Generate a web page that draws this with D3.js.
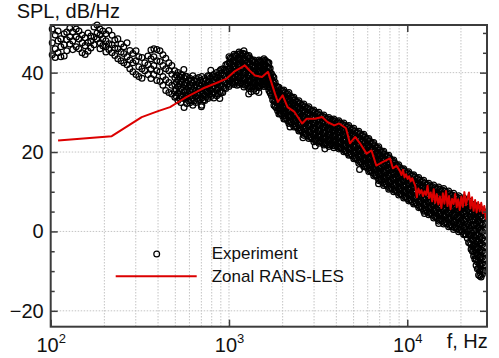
<!DOCTYPE html>
<html><head><meta charset="utf-8">
<script src="https://cdn.jsdelivr.net/npm/d3@7"></script>
<style>body{margin:0;background:#fff}svg{display:block;font-family:"Liberation Sans",Arial,sans-serif}</style>
</head><body><svg id="c" width="499" height="358"></svg>
<script>
// ---------- data ----------
const yMajorTicks = [-20, 0, 20, 40];
const yMinorTicks = [-15, -10, -5, 5, 10, 15, 25, 30, 35, 45, 50];
const xMajorTicks = [100, 1000, 10000];
const seriesNames = ["Experiment", "Zonal RANS-LES"];

// Experiment, low frequencies: [f, SPL values...]
const expLow = [
[102,51,47.5,44.5],[106,49.5,46,43.8],[110,50.5,48,45],[114,48.5,46.5,44],[119,49.8,47,44.2],[123,50.2,48.3,45.5],[128,51.2,49,47.2],[133,50.3,48,45.8],[139,51,49,46.5],[144,50.5,48.5,46],[150,49.5,47.5,45],[156,48.8,46.8,44.6],[162,50,47.6,45.4],[168,49.2,47.9,46.2],[175,51.5,49,47],[182,52,50,48.5],[189,51,49.5,47.5,46],[196,50.5,48.5,46.8],[204,49.8,48,46.5,45.2],[212,50.6,47.3,45.8],[221,49.4,47,45],[229,48.2,46.2,44.3],[238,48.5,46,43.5],[248,47.2,45.2,43],[257,46.5,44.8,42.5],[268,47.5,44,42],[278,45.6,43.2,41],[289,44.8,42.5,40.2],[301,45.5,43,39.5],[312,44,41.5,39],[325,43.8,41,38.6],[337,42.5,40.5],[351,44.2,42,39.5],[365,45.7,43.5,41,38.5],[379,46,44,41.8,39.5],[394,45.8,43,40.5,38],[410,45.5,42.8,40.2,37.8],[426,44.5,41.8,39,36.8],[442,43.6,41,38.2,35.5],[460,42.5,40.5,37.5,35],[478,41.8,39.6,36.8,34.6],
[497,40.5,38.8,37,35.4,33.8],[517,40,38.2,36.5,34.8,33],[537,39.5,37.8,36,34.2,32.5],[558,40.8,38.8,37,35.2,33.5],[580,39,37.3,35.6,34,32.2],[603,38.6,37,35.4,34,32.4],[627,39.2,37.4,35.5,33.6,31.8],[652,38.5,37,35.4,34,32.5],[677,38.8,37.2,35.8,34.4,33],[704,39,37.2,35.4,33.6,31.8],[732,38.5,37.1,35.7,34.3,33],[761,39.2,37.6,36.2,34.8,33.5],[791,40.6,38.8,37.2,35.6,34],[822,39.5,38,36.5,35,33.6],[854,40,38.6,37,35.6,34.2],[888,40.5,38.6,36.8,35.2,33.5],[923,41,39.5,38,36.5,35],[960,42,40.5,39,37.5,36],
[507,39.4,37.6,35.7,34],[527,39,37.2,35.3,33.5],[547,39.4,37.6,35.6,33.8],[569,39.1,37.3,35.4,33.6],[591,38,36.4,34.7,33],[615,38.1,36.4,34.6,32.9],[639,38,36.3,34.6,32.9],[664,37.9,36.4,34.9,33.4],[690,38.1,36.5,34.8,33.2],[718,37.9,36.3,34.7,33.1],[746,38.1,36.7,35.3,33.9],[776,39.1,37.6,36,34.5],[806,39.2,37.7,36.1,34.6],[838,39,37.5,36.1,34.6],[871,39.4,37.8,36.2,34.6],[905,39.9,38.3,36.7,35],[941,40.7,39.2,37.7,36.2],[980,42.2,40.5,38.8,37.1]
];

// Experiment, dense band: [f, SPL values...]
const expBand = [
[1000,44,42.5,41,39.5,38,36.5],[1033,43.5,42,40.5,39,37.5],[1067,44.6,43.1,41.6,40,38.5,37],[1102,44.2,42.6,41.1,39.5,38],
[1138,45.2,43.6,41.9,40.3,38.6,37],[1175,44.5,42.8,41,39.3,37.5],[1213,45.5,43.7,41.9,40,38.2,36.4],[1253,44.1,42.4,40.6,38.8,37.1],
[1294,44.3,42.6,41,39.3,37.7,36],[1337,43,41.4,39.8,38.2,36.6],[1380,43.2,41.7,40.2,38.8,37.3,35.8],[1426,42.3,40.9,39.5,38.1,36.7],
[1472,43.2,41.8,40.4,39,37.6,36.2],[1521,42.7,41.3,39.9,38.5,37.1],[1570,43.5,42.1,40.7,39.3,37.9,36.5],[1622,42.8,41.4,40,38.6,37.2],
[1675,42.5,41.1,39.7,38.3,36.9,35.5],[1730,39.8,38.4,37,35.6,34.2],[1786,38.8,37.4,36,34.6,33.2,31.8],[1845,36.6,35.2,33.9,32.5,31.1],
[1905,36.3,35,33.6,32.3,30.9,29.6],[1968,35.3,33.9,32.5,31.1,29.7],[2032,35.6,34.1,32.7,31.2,29.8,28.3],[2099,34.5,33,31.5,30,28.5],
[2168,35,33.4,31.9,30.3,28.8,27.2],[2239,33.6,32.1,30.6,29.1,27.6],[2312,33.8,32.3,30.8,29.3,27.8,26.3],[2388,32.5,31,29.5,28,26.5],
[2466,32.9,31.4,29.9,28.3,26.8,25.3],[2547,31.7,30.2,28.6,27.1,25.6],[2630,32.1,30.5,29,27.3,25.8,24.2],[2716,30.9,29.3,27.8,26.2,24.6],
[2805,31.4,29.8,28.2,26.6,25,23.4],[2897,30.2,28.6,27,25.4,23.8],[2992,30.6,29,27.4,25.8,24.2,22.6],[3090,29.5,27.9,26.4,24.8,23.2],
[3192,30,28.4,26.9,25.3,23.8,22.2],[3296,28.8,27.3,25.8,24.3,22.8],[3404,29.3,27.8,26.3,24.8,23.3,21.8],[3516,28.3,26.8,25.3,23.8,22.3],
[3631,28.7,27.2,25.8,24.3,22.9,21.4],[3750,27.8,26.4,24.9,23.5,22],[3873,28.3,26.9,25.4,24,22.5,21.1],[4000,27.4,26,24.5,23.1,21.7],
[4131,27.9,26.5,25.1,23.6,22.2,20.8],[4266,26.9,25.5,24,22.6,21.2],[4406,27.3,25.9,24.4,23,21.5,20.1],[4550,26.3,24.8,23.3,21.8,20.3],
[4699,26.7,25.2,23.7,22.2,20.7,19.2],[4853,25.5,24,22.5,21,19.5],[5012,26,24.5,22.9,21.4,19.8,18.3],[5176,24.8,23.3,21.7,20.2,18.6],
[5346,25.2,23.6,22,20.4,18.8,17.2],[5521,24.1,22.5,20.9,19.2,17.6],[5702,24.5,22.9,21.2,19.6,17.9,16.3],[5888,23.2,21.5,19.9,18.3,16.6],
[6081,23.4,21.7,20.1,18.4,16.8,15.1],[6281,22.1,20.4,18.8,17.1,15.4],[6486,22.4,20.7,19,17.4,15.7,14],[6699,21,19.3,17.6,15.9,14.2],
[6918,21.3,19.6,17.9,16.2,14.5,12.8],[7145,19.9,18.2,16.5,14.8,13.1],[7379,20.2,18.5,16.8,15,13.3,11.6],[7621,18.8,17.1,15.4,13.7,12],
[7870,19.2,17.5,15.8,14,12.3,10.6],[8128,17.8,16.1,14.5,12.8,11.1],[8395,18,16.4,14.8,13.2,11.6,10],[8670,16.6,15.1,13.5,11.9,10.4],
[8954,16.8,15.3,13.8,12.2,10.7,9.2],[9247,15.5,14,12.5,11,9.5],[9550,15.8,14.3,12.8,11.4,9.9,8.4],[9863,14.6,13.2,11.7,10.3,8.8],
[10186,15,13.5,12.1,10.6,9.2,7.7],[10520,14,12.5,11,9.5,8],[10864,14.3,12.8,11.3,9.9,8.4,6.9],[11220,13.2,11.7,10.2,8.7,7.2],
[11588,13.6,12.1,10.6,9,7.5,6],[11967,12.4,10.9,9.3,7.8,6.3],[12359,12.9,11.3,9.8,8.2,6.7,5.1],[12764,11.7,10.1,8.5,7,5.4],
[13183,12.1,10.5,8.9,7.4,5.8,4.2],[13614,11.1,9.5,7.9,6.2,4.6],[14060,11.7,10,8.4,6.7,5.1,3.4],[14521,10.6,8.9,7.2,5.5,3.8],
[14997,11.2,9.5,7.8,6,4.3,2.6],[15488,10.1,8.4,6.6,4.8,3.1],[15996,10.8,9,7.2,5.5,3.7,1.9],[16520,9.6,7.8,6,4.2,2.4],
[17061,10.2,8.4,6.6,4.8,3,1.2],[17620,9,7.2,5.4,3.5,1.7],[18197,9.6,7.8,6,4.1,2.3,0.5],[18793,8.4,6.6,4.8,2.9,1.1],
[19409,9,7.2,5.4,3.5,1.7,-0.1],[20045,7.9,6,4.2,2.4,0.5],[20701,8.5,6.6,4.8,2.9,1.1,-0.8],[21380,7,5.1,3.1,1.2,-0.8],
[22080,7.7,5.6,3.5,1.4,-0.7,-2.8],[22803,6,3.7,1.4,-1,-3.3,-4.5],
[23550,6.8,5.5,4.2,2.9,1.6,0.3,-1,-2.3,-3.6,-4.9,-6.2],
[24322,6.4,5,3.5,2,0.5,-1,-2.5,-4,-5.5,-7,-8.5],
[25119,6,4.3,2.6,0.9,-0.8,-2.5,-4.2,-5.9,-7.6,-9.3,-11],
[25942,5.5,3.8,2.1,0.4,-1.3,-3,-4.7,-6.4,-8.1,-9.8,-11.5],
[26792,5,3.5,2,0.5,-1,-2.5,-4,-5.5,-7,-8.5,-10]
];

// Experiment, dense band (in-between bins): [f, SPL values...]
const expBandMid = [
[1016,43.7,42.4,41.2,39.7,38.4,37.1],[1050,44,42.7,41.4,39.9,38.6,37.3],[1084,44.3,43,41.7,40.2,38.9,37.6],[1120,44.6,43.3,41.9,40.3,38.9,37.6],
[1156,44.8,43.4,41.9,40.2,38.8,37.4],[1194,44.9,43.4,41.9,40.1,38.6,37.1],[1233,44.7,43.2,41.7,39.9,38.4,36.8],[1273,44.1,42.7,41.2,39.5,38.1,36.6],
[1315,43.6,42.2,40.8,39.2,37.8,36.4],[1358,43,41.7,40.4,38.9,37.6,36.3],[1403,42.7,41.4,40.2,38.8,37.6,36.3],[1449,42.7,41.5,40.3,38.9,37.7,36.5],
[1496,42.9,41.7,40.5,39.1,37.9,36.7],[1545,43,41.8,40.6,39.2,38,36.9],[1596,43.1,41.9,40.7,39.3,38.1,36.9],[1648,42.6,41.4,40.2,38.8,37.6,36.4],
[1702,41.1,39.9,38.7,37.3,36.1,34.9],[1758,39.2,38,36.8,35.4,34.3,33.1],[1815,37.6,36.4,35.3,33.9,32.7,31.5],[1875,36.4,35.2,34.1,32.7,31.6,30.4],
[1936,35.7,34.6,33.4,32,30.9,29.7],[2000,35.4,34.2,33,31.5,30.3,29.1],[2065,35,33.7,32.5,31,29.7,28.4],[2133,34.7,33.4,32.1,30.5,29.2,27.9],
[2203,34.2,32.9,31.6,30.1,28.8,27.5],[2275,33.6,32.4,31.1,29.6,28.3,27],[2350,33.1,31.8,30.6,29.1,27.8,26.5],[2427,32.6,31.4,30.1,28.6,27.3,26],
[2506,32.2,31,29.7,28.2,26.9,25.5],[2588,31.8,30.5,29.2,27.6,26.3,25],[2673,31.4,30.1,28.7,27.2,25.8,24.5],[2760,31.1,29.7,28.4,26.8,25.5,24.1],
[2851,30.7,29.4,28,26.4,25,23.7],[2944,30.3,29,27.6,26,24.6,23.3],[3041,30,28.6,27.3,25.7,24.3,23],[3140,29.7,28.3,27,25.4,24.1,22.8],
[3243,29.3,28,26.7,25.2,23.9,22.6],[3350,29,27.7,26.4,24.9,23.6,22.4],[3459,28.7,27.4,26.2,24.7,23.4,22.1],[3573,28.4,27.2,25.9,24.4,23.2,21.9],
[3690,28.2,26.9,25.7,24.3,23,21.8],[3811,28,26.7,25.5,24.1,22.9,21.6],[3936,27.8,26.5,25.3,23.9,22.7,21.5],[4065,27.6,26.4,25.2,23.7,22.5,21.3],
[4198,27.3,26.1,24.9,23.5,22.3,21.1],[4335,27,25.8,24.6,23.2,21.9,20.7],[4477,26.7,25.5,24.2,22.8,21.5,20.3],[4624,26.4,25.1,23.9,22.4,21.1,19.8],
[4775,26,24.8,23.5,22,20.7,19.4],[4932,25.7,24.4,23.1,21.6,20.3,19],[5093,25.3,24,22.7,21.2,19.8,18.5],[5260,24.9,23.6,22.2,20.7,19.3,18],
[5433,24.6,23.2,21.8,20.2,18.8,17.5],[5611,24.2,22.8,21.4,19.8,18.4,17],[5794,23.8,22.4,21,19.3,17.9,16.5],[5984,23.2,21.8,20.4,18.7,17.3,15.9],
[6180,22.7,21.2,19.8,18.2,16.8,15.3],[6383,22.2,20.7,19.3,17.6,16.2,14.8],[6592,21.6,20.2,18.8,17.1,15.6,14.2],[6808,21.1,19.6,18.2,16.5,15.1,13.6],
[7031,20.5,19.1,17.6,15.9,14.5,13],[7261,20,18.5,17.1,15.3,13.9,12.4],[7499,19.4,18,16.5,14.8,13.3,11.9],[7745,18.9,17.5,16,14.3,12.8,11.4],
[7998,18.4,17,15.5,13.8,12.4,10.9],[8261,17.8,16.4,15,13.4,12,10.6],[8531,17.2,15.9,14.5,13,11.6,10.3],[8811,16.6,15.3,14,12.5,11.2,9.9],
[9099,16.1,14.8,13.5,12,10.7,9.5],[9397,15.6,14.3,13.1,11.6,10.3,9.1],[9705,15.2,13.9,12.7,11.2,9.9,8.7],[10023,14.8,13.5,12.3,10.8,9.5,8.3],
[10351,14.4,13.2,11.9,10.4,9.2,7.9],[10691,14.1,12.8,11.5,10,8.8,7.5],[11041,13.7,12.4,11.2,9.7,8.4,7.1],[11403,13.3,12.1,10.8,9.3,8,6.7],
[11776,12.9,11.6,10.3,8.8,7.5,6.2],[12162,12.6,11.3,10,8.4,7.1,5.8],[12561,12.2,10.9,9.6,8,6.7,5.3],[12972,11.8,10.5,9.1,7.6,6.2,4.9],
[13397,11.5,10.2,8.8,7.2,5.8,4.5],[13836,11.3,9.9,8.5,6.9,5.5,4.1],[14289,11,9.6,8.2,6.5,5.1,3.7],[14758,10.8,9.3,7.9,6.2,4.8,3.3],
[15241,10.6,9.1,7.6,5.9,4.4,2.9],[15740,10.4,8.9,7.4,5.6,4.1,2.6],[16256,10.1,8.6,7.1,5.3,3.8,2.2],[16789,9.8,8.3,6.8,5,3.4,1.9],
[17339,9.5,8,6.4,4.6,3.1,1.5],[17907,9.2,7.7,6.1,4.3,2.7,1.2],[18493,8.9,7.4,5.8,4,2.4,0.9],[19099,8.6,7.1,5.5,3.7,2.1,0.6],
[19725,8.3,6.8,5.2,3.4,1.8,0.3],[20371,8.1,6.5,4.9,3.1,1.5,0],[21038,7.7,6.1,4.4,2.5,0.9,-0.7],[21728,7.2,5.5,3.8,1.8,0,-1.7],
[22440,6.8,4.9,3,0.8,-1.1,-3],[23175,6.5,4.8,3.1,1.4,-0.4,-2.1,-3.8,-5],
[23934,6.1,4.6,3.1,1.6,0.1,-1.5,-3,-4.5,-6,-7],
[24719,6,4.3,2.6,0.9,-0.9,-2.6,-4.3,-6,-7.7,-9.4],
[25529,5.4,3.7,2,0.3,-1.5,-3.2,-4.9,-6.6,-8.3,-10,-11.2],
[26364,4.8,3.2,1.6,0,-1.7,-3.3,-4.9,-6.5,-8.1,-9.7,-10.8]
];

// Experiment, scattered outliers [f, SPL]
const expOut = [[1290,34.6],[1330,35.2],[1420,35.4],[1470,35],[560,31.2],[700,31.4],[900,40.8],[1110,36.8],[2200,26.3],[2600,23.6],[3050,21.5],[3450,20.8],[5400,15.6],[6900,12],[12500,4.5],[15000,2]];

// Zonal RANS-LES
const lesFreq = [110,220,324,400,467,520,580,713,850,970,1081,1229,1300,1399,1531,1655,1811,1880,2000,2130,2330,2570,2730,3030,3330,3580,3900,4150,4530,4770,5100,5430,5910,6300,6700,7300,8000,8300,8700,
9100,9282,9468,9657,9850,10047,10248,10453,10662,10875,11093,11315,11541,11772,12007,12247,12492,12742,12997,13257,13522,13793,14069,14350,14637,14930,15228,15533,15843,16160,16483,16813,17149,17492,17842,18199,18563,18934,19313,19699,20093,20495,20905,21323,21750,22185,22628,23081,23542,24013,24493,24983,25483,25993,26513,27043,27584,28000];
const lesSPL = [22.9,24.0,28.8,30.3,31.3,32.6,33.9,36.0,37.4,38.5,40.4,41.8,40.6,39.3,38.9,40.2,34.7,32.6,34.3,31.3,30.1,27.2,28.4,28.4,28.8,27.5,26.7,27.2,26,22.2,23.8,22.2,19.6,20.4,16.6,17.5,18.4,15.9,16.5,
15.2,14.2,15.5,13.6,14.4,13.2,13.9,12.6,13.4,12.4,11.5,8.6,10.8,9.6,10.4,8.9,10.1,9.2,11.5,8.4,9.8,7.6,10.6,7.2,9.4,6.8,8.8,5.9,9.6,7,10.2,6.4,8.9,5.6,8.2,6.9,9.4,6.1,8.1,5.4,8.8,6.2,9.9,6.6,8.4,9.8,5.8,8.6,5.2,7.9,4.8,7.4,5.1,7.2,4.6,6.4,3.2,5.2,0.5];

// ---------- drawing ----------
const W = 499, H = 358, L = 50.7, R = 487, T = 25, B = 326.7;
const x = d3.scaleLog().domain([100, 28000]).range([L, R]);
const y = d3.scaleLinear().domain([-24, 52]).range([B, T]);
const svg = d3.select('#c');
svg.append('rect').attr('width', W).attr('height', H).attr('fill', '#fff');

// grid
const grid = svg.append('g').attr('stroke', '#c4c4c4').attr('stroke-width', 1).attr('stroke-dasharray', '1.5,1.5');
grid.selectAll('line.v').data(x.ticks().filter(f => f > 100)).join('line')
  .attr('x1', d => x(d)).attr('x2', d => x(d)).attr('y1', T).attr('y2', B);
grid.selectAll('line.h').data(yMajorTicks).join('line').attr('class','h')
  .attr('x1', L).attr('x2', R).attr('y1', d => y(d)).attr('y2', d => y(d));

// experiment points
const pts = [];
expLow.concat(expBand, expBandMid).forEach(c => c.slice(1).forEach(v => pts.push([c[0], v])));
expOut.forEach(p => pts.push(p));
svg.append('g').selectAll('circle').data(pts).join('circle')
  .attr('cx', d => x(d[0])).attr('cy', d => y(d[1])).attr('r', 2.9)
  .attr('fill', 'none').attr('stroke', '#000').attr('stroke-width', 1.25);

// LES line
const les = lesFreq.map((f, i) => [f, lesSPL[i]]);
svg.append('path').datum(les)
  .attr('d', d3.line().x(d => x(d[0])).y(d => y(d[1])))
  .attr('fill', 'none').attr('stroke', '#dc0000').attr('stroke-width', 2).attr('stroke-linejoin', 'round');

// axes
const axCol = '#3c3c3c';
function styleAxis(g) { g.select('.domain').remove(); g.selectAll('.tick line').attr('stroke', axCol).attr('stroke-width', 1.5); }
svg.append('g').attr('transform', `translate(${L},0)`)
  .call(d3.axisLeft(y).tickValues(yMajorTicks).tickSize(-7).tickPadding(7).tickFormat(d3.format('d')))
  .call(styleAxis)
  .call(g => g.selectAll('text').attr('font-size', 20).attr('fill', '#111').attr('font-family', '"Liberation Sans",Arial,sans-serif'));
svg.append('g').attr('transform', `translate(${L},0)`)
  .call(d3.axisLeft(y).tickValues(yMinorTicks).tickSize(-4).tickFormat('')).call(styleAxis);
svg.append('g').attr('transform', `translate(${R},0)`)
  .call(d3.axisRight(y).tickValues(yMajorTicks).tickSize(-7).tickFormat('')).call(styleAxis);
svg.append('g').attr('transform', `translate(${R},0)`)
  .call(d3.axisRight(y).tickValues(yMinorTicks).tickSize(-4).tickFormat('')).call(styleAxis);
svg.append('g').attr('transform', `translate(0,${T})`)
  .call(d3.axisTop(x).tickValues(xMajorTicks).tickSize(-7).tickFormat('')).call(styleAxis);
svg.append('g').attr('transform', `translate(0,${B})`)
  .call(d3.axisBottom(x).tickValues(xMajorTicks).tickSize(-7).tickPadding(11))
  .call(styleAxis)
  .call(g => g.selectAll('text').each(function(d) {
    const t = d3.select(this).text('').attr('font-size', 20).attr('fill', '#111')
      .attr('font-family', '"Liberation Sans",Arial,sans-serif');
    t.append('tspan').text('10');
    t.append('tspan').attr('dy', -9).attr('font-size', 13).text(Math.round(Math.log10(d)));
  }));

// frame
svg.append('rect').attr('x', L).attr('y', T).attr('width', R - L).attr('height', B - T)
  .attr('fill', 'none').attr('stroke', axCol).attr('stroke-width', 2);

// titles
svg.append('text').attr('x', 16.7).attr('y', 18.3).attr('font-size', 20).attr('fill', '#111').text('SPL, dB/Hz');
svg.append('text').attr('x', 446.7).attr('y', 348.3).attr('font-size', 20).attr('fill', '#111').text('f, Hz');

// legend
const lg = svg.append('g');
lg.append('circle').attr('cx', 156.7).attr('cy', 254).attr('r', 2.9).attr('fill', 'none').attr('stroke', '#000').attr('stroke-width', 1.2);
lg.append('line').attr('x1', 115.7).attr('x2', 196.7).attr('y1', 276.3).attr('y2', 276.3).attr('stroke', '#dc0000').attr('stroke-width', 2);
lg.selectAll('text').data(seriesNames).join('text')
  .attr('x', 211.7).attr('y', (d, i) => 259.3 + i * 22.4).attr('font-size', 17).attr('fill', '#111').text(d => d);
</script></body></html>
